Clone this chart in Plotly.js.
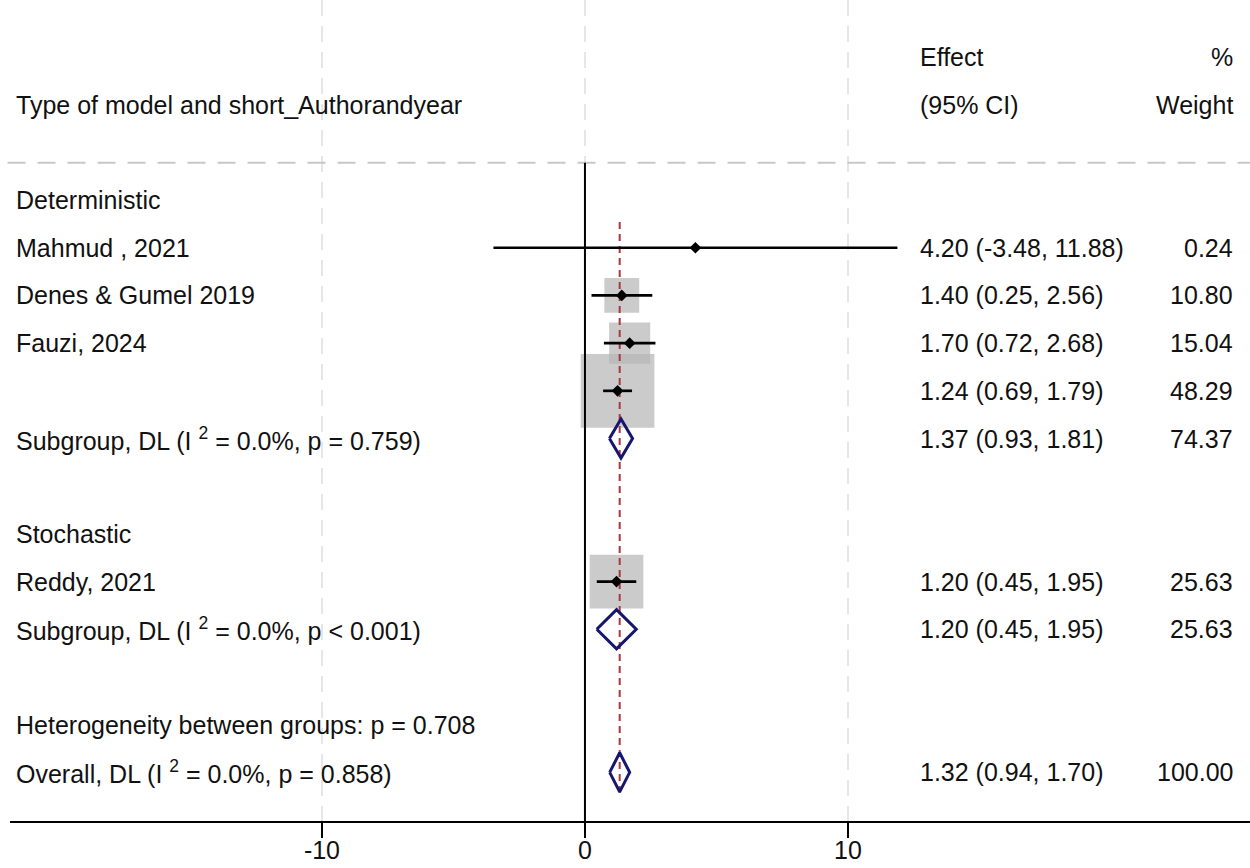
<!DOCTYPE html>
<html>
<head>
<meta charset="utf-8">
<script src="https://cdn.plot.ly/plotly-3.0.1.min.js"></script>
<style>
html,body{margin:0;padding:0;background:#fff;}
#chart{width:1250px;height:868px;}
</style>
</head>
<body>
<div id="chart"></div>
<script>
// ---------------- DATA ----------------
const headerLabel = "Type of model and short_Authorandyear";
const headerEffect = ["Effect", "(95% CI)"];
const headerWeight = ["%", "Weight"];

const rowLabels = [
  "Deterministic",
  "Mahmud , 2021",
  "Denes & Gumel 2019",
  "Fauzi, 2024",
  "",
  "Subgroup, DL (I <sup>2</sup> = 0.0%, p = 0.759)",
  "",
  "Stochastic",
  "Reddy, 2021",
  "Subgroup, DL (I <sup>2</sup> = 0.0%, p &lt; 0.001)",
  "",
  "Heterogeneity between groups: p = 0.708",
  "Overall, DL (I <sup>2</sup> = 0.0%, p = 0.858)"
];
const rowType   = ["group","study","study","study","study","pooled","blank","group","study","pooled","blank","note","overall"];
const rowEst    = [null, 4.20, 1.40, 1.70, 1.24, 1.37, null, null, 1.20, 1.20, null, null, 1.32];
const rowLo     = [null, -3.48, 0.25, 0.72, 0.69, 0.93, null, null, 0.45, 0.45, null, null, 0.94];
const rowHi     = [null, 11.88, 2.56, 2.68, 1.79, 1.81, null, null, 1.95, 1.95, null, null, 1.70];
const rowWeight = [null, 0.24, 10.80, 15.04, 48.29, 74.37, null, null, 25.63, 25.63, null, null, 100.00];

const tickVals = [-10, 0, 10];
const tickText = ["-10", "0", "10"];

// ---------------- LAYOUT HELPERS ----------------
const FONT = "Liberation Sans, Arial, sans-serif";
const FS = 25;
const firstRow = 3;           // row index of first data row (headers at 0 and 1)
const rowY = i => firstRow + i;
const NAVY = "#16166e";
const RED = "#a8383f";

const traces = [];

// weight boxes
const bx = [], by = [], bs = [];
rowType.forEach((t, i) => {
  if (t === "study") { bx.push(rowEst[i]); by.push(rowY(i)); bs.push(10.6 * Math.sqrt(rowWeight[i])); }
});
traces.push({type: "scatter", mode: "markers", x: bx, y: by, hoverinfo: "skip",
  marker: {symbol: "square", size: bs, color: "#b5b5b5", line: {width: 0}}});

// overall effect reference line (dashed red)
const overallIdx = rowType.indexOf("overall");
const firstStudy = rowType.indexOf("study");
traces.push({type: "scatter", mode: "lines", hoverinfo: "skip",
  x: [rowEst[overallIdx], rowEst[overallIdx]],
  y: [rowY(firstStudy) - 0.54, rowY(overallIdx) + 0.5],
  line: {color: RED, width: 2, dash: "7px,5px"}});

// CI lines
const cx = [], cy = [];
rowType.forEach((t, i) => {
  if (t === "study") { cx.push(rowLo[i], rowHi[i], null); cy.push(rowY(i), rowY(i), null); }
});
traces.push({type: "scatter", mode: "lines", x: cx, y: cy, hoverinfo: "skip",
  line: {color: "#000", width: 2.7}});

// point estimates
const px = [], py = [];
rowType.forEach((t, i) => { if (t === "study") { px.push(rowEst[i]); py.push(rowY(i)); } });
traces.push({type: "scatter", mode: "markers", x: px, y: py, hoverinfo: "skip",
  marker: {symbol: "diamond", size: 9, color: "#000", line: {width: 0}}});

// pooled diamonds
const dx = [], dy = [];
const dh = 0.41;
rowType.forEach((t, i) => {
  if (t === "pooled" || t === "overall") {
    const y = rowY(i);
    dx.push(rowLo[i], rowEst[i], rowHi[i], rowEst[i], rowLo[i], null);
    dy.push(y, y - dh, y, y + dh, y, null);
  }
});
traces.push({type: "scatter", mode: "lines", x: dx, y: dy, hoverinfo: "skip",
  line: {color: NAVY, width: 3}});

// ---------------- TEXT ----------------
const xLabel = 0.0032, xEffect = 0.7323, xWeight = 0.9879;
const annotations = [];
const txt = (text, x, y, anchor) => annotations.push({
  text: text, x: x, y: y, xref: "paper", yref: "y", xanchor: anchor, yanchor: "middle",
  showarrow: false, font: {family: FONT, size: FS, color: "#111"}
});
txt(headerLabel, xLabel, 1, "left");
headerEffect.forEach((t, i) => txt(t, xEffect, i, "left"));
headerWeight.forEach((t, i) => txt(t, xWeight, i, "right"));
rowLabels.forEach((lab, i) => {
  const y = rowY(i);
  if (lab) txt(lab, xLabel, y, "left");
  if (rowEst[i] !== null) {
    txt(rowEst[i].toFixed(2) + " (" + rowLo[i].toFixed(2) + ", " + rowHi[i].toFixed(2) + ")", xEffect, y, "left");
    txt(rowWeight[i].toFixed(2), xWeight, y, "right");
  }
});

// ---------------- SHAPES ----------------
const shapes = [
  // header separator
  {type: "line", xref: "paper", yref: "y", x0: -0.002, x1: 1, y0: 2.22, y1: 2.22,
   line: {color: "#c8c8c8", width: 2, dash: "18px,12px"}},
  // null line
  {type: "line", xref: "x", yref: "y", x0: 0, x1: 0, y0: 2.22, y1: 16.05,
   line: {color: "#000", width: 2}}
];

const layout = {
  width: 1250, height: 868,
  margin: {l: 10, r: 0, t: 0, b: 47, pad: 0},
  paper_bgcolor: "#fff", plot_bgcolor: "#fff",
  showlegend: false,
  font: {family: FONT, size: FS, color: "#111"},
  xaxis: {
    range: [-21.86, 25.285], tickvals: tickVals, ticktext: tickText,
    ticks: "outside", ticklen: 15, tickwidth: 1.5, tickcolor: "#000",
    ticklabelstandoff: -9,
    showline: true, linecolor: "#000", linewidth: 2,
    showgrid: true, gridcolor: "#e6e6e6", gridwidth: 2, griddash: "16px,10px",
    zeroline: false, fixedrange: true, automargin: false,
    tickfont: {family: FONT, size: FS, color: "#111"}
  },
  yaxis: {range: [16.02, -1.195], visible: false, showgrid: false, zeroline: false, fixedrange: true},
  annotations: annotations,
  shapes: shapes
};

Plotly.newPlot("chart", traces, layout, {staticPlot: true, displayModeBar: false});
</script>
</body>
</html>
